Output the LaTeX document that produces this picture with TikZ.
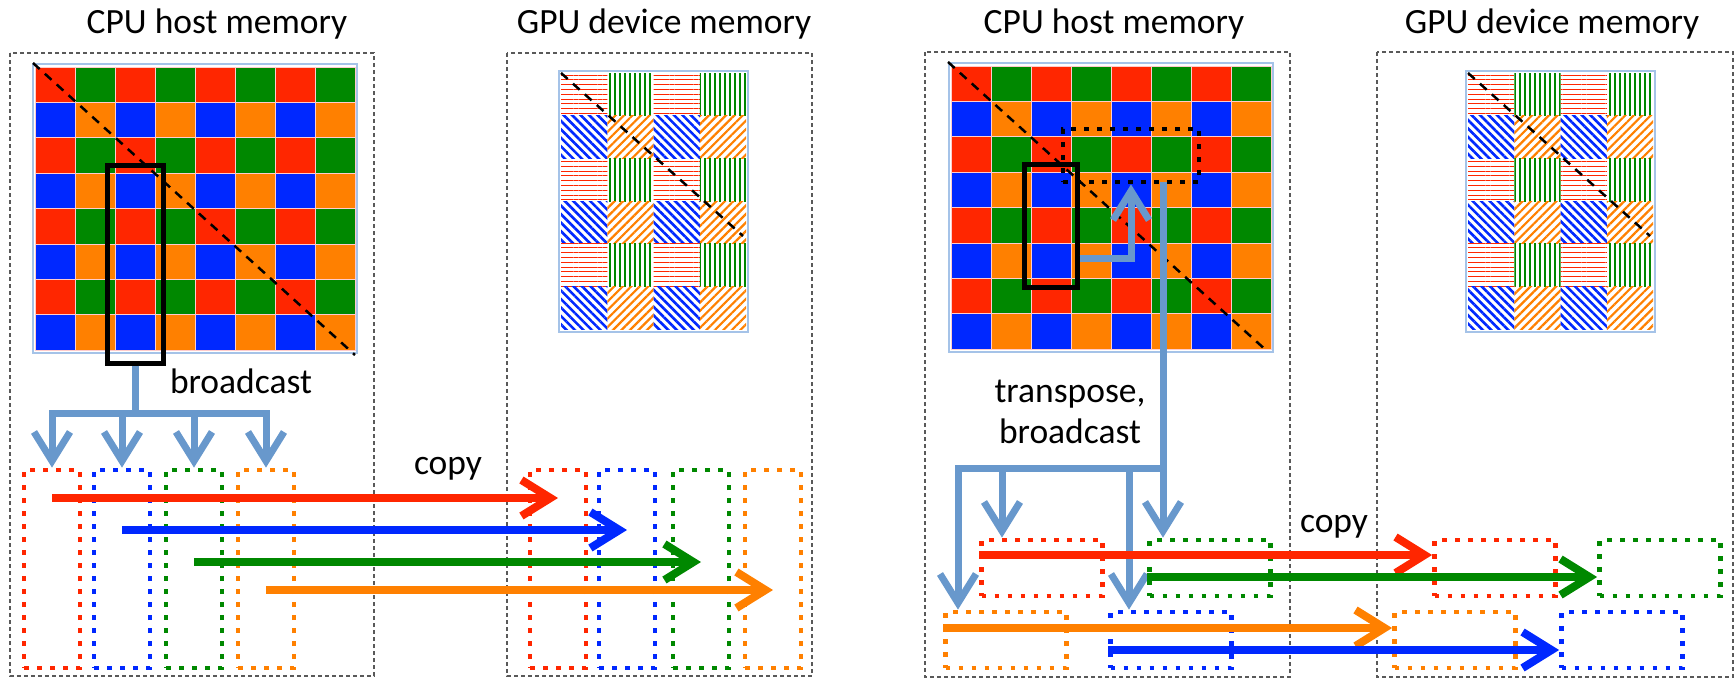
\documentclass[tikz,border=0pt]{standalone}
\usepackage{fontspec}
\setmainfont{Carlito}
\usetikzlibrary{arrows.meta,patterns.meta}

\definecolor{cellred}{RGB}{255,38,0}
\definecolor{cellgreen}{RGB}{0,136,0}
\definecolor{cellblue}{RGB}{0,40,255}
\definecolor{cellorange}{RGB}{255,128,0}
\definecolor{flow}{RGB}{104,152,204}
\definecolor{frameblue}{RGB}{165,195,232}

% 8x8 host matrix, top left corner at (#1,#2)
\newcommand{\hostgrid}[2]{%
  \foreach \r in {0,...,7}
    \foreach \c in {0,...,7}
    {
      \pgfmathtruncatemacro{\k}{mod(\r,2)*2+mod(\c,2)}
      \ifcase\k \def\cc{cellred}\or \def\cc{cellgreen}\or \def\cc{cellblue}\or \def\cc{cellorange}\fi
      \fill[\cc,draw=white!80!red,line width=0.8pt] (#1+40*\c,#2+35.4*\r) rectangle ++(40,35.4);
    }
}
% 6x4 device matrix, top left corner at (#1,#2)
\newcommand{\devgrid}[2]{%
  \foreach \r in {0,...,5}
    \foreach \c in {0,...,3}
    {
      \pgfmathtruncatemacro{\k}{mod(\r,2)*2+mod(\c,2)}
      \ifcase\k \def\pp{redh}\or \def\pp{greenv}\or \def\pp{bluel}\or \def\pp{orangel}\fi
      \path[\pp] (#1+46.3*\c,#2+42.7*\r) rectangle ++(46.3,42.7);
    }
}

\begin{document}
\begin{tikzpicture}[x=1pt,y=-1pt,
  >={Straight Barb[length=29pt,width=36pt]},
  lbl/.style={font=\fontsize{35.5}{41}\selectfont, inner sep=0pt, anchor=base},
  mem/.style={draw=black!65, line width=1.3pt, dash pattern=on 4pt off 3pt},
  rim/.style={draw=frameblue, line width=2.5pt},
  diag/.style={line width=2.5pt, dash pattern=on 9pt off 7pt},
  pick/.style={draw=black, line width=5pt, inner sep=0pt},
  dotbox/.style={draw=#1, line width=4.8pt, dash pattern=on 4.8pt off 8.2pt, inner sep=0pt},
  slab/.style={dotbox=#1, minimum width=56pt, minimum height=198pt},
  tile/.style={dotbox=#1, minimum width=121pt, minimum height=56pt},
  fan/.style={draw=flow, line width=7pt},
  ship/.style={draw=#1, line width=8pt, ->},
  redh/.style={pattern={Lines[angle=0,distance=4.8pt,line width=1pt]},pattern color=cellred},
  greenv/.style={pattern={Lines[angle=90,distance=5pt,line width=1.1pt]},pattern color=cellgreen},
  bluel/.style={pattern={Lines[angle=-45,distance=6pt,line width=2.6pt]},pattern color=cellblue},
  orangel/.style={pattern={Lines[angle=45,distance=6pt,line width=2.2pt]},pattern color=cellorange}]
\useasboundingbox (0,0) rectangle (1736,680);

% memory regions
\draw[mem] (10,53) rectangle (374,676);
\draw[mem] (507,53) rectangle (812,676);
\draw[mem] (925,52) rectangle (1290,677);
\draw[mem] (1377,52) rectangle (1733,677);

\node[lbl] (t1) at (217,33) {CPU host memory};
\node[lbl] (t2) at (664,33) {GPU device memory};
\node[lbl] (t3) at (1114,33) {CPU host memory};
\node[lbl] (t4) at (1552,33) {GPU device memory};

% matrices
\hostgrid{35}{67}
\draw[rim] (33,64) rectangle (357,353);
\draw[diag] (33,63) -- (355,355);
\devgrid{561}{73}
\draw[rim] (559,71) rectangle (748,332);
\draw[diag] (561,73) -- (743,236);
\hostgrid{951}{66}
\draw[rim] (949,63) rectangle (1273,352);
\draw[diag] (948,62) -- (1268,352);
\devgrid{1468}{73}
\draw[rim] (1466,71) rectangle (1655,332);
\draw[diag] (1468,73) -- (1650,236);

% left: column panel, broadcast, copy
\node[pick, minimum width=56pt, minimum height=198pt] (sel) at (135,264) {};
\node[lbl] (bc) at (241,393) {broadcast};

\node[slab=cellred] (hR) at (52,569) {};
\node[slab=cellblue] (hB) at (122,569) {};
\node[slab=cellgreen] (hG) at (194,569) {};
\node[slab=cellorange] (hO) at (266,569) {};
\node[slab=cellred] (dR) at (558,569) {};
\node[slab=cellblue] (dB) at (627,569) {};
\node[slab=cellgreen] (dG) at (701,569) {};
\node[slab=cellorange] (dO) at (773,569) {};

\draw[fan] (sel.south) -- (sel.south |- 0,413);
\draw[fan,<->] (hR.north) -- (hR.north |- 0,413) -- (hO.north |- 0,413) -- (hO.north);
\draw[fan,->] (hB.north |- 0,413) -- (hB.north);
\draw[fan,->] (hG.north |- 0,413) -- (hG.north);

\node[lbl] (c1) at (448,474) {copy};
\draw[ship=cellred] (hR.center |- 0,498) -- (dR.center |- 0,498);
\draw[ship=cellblue] (hB.center |- 0,530) -- (dB.center |- 0,530);
\draw[ship=cellgreen] (hG.center |- 0,562) -- (dG.center |- 0,562);
\draw[ship=cellorange] (hO.center |- 0,590) -- (dO.center |- 0,590);

% right: column panel, transpose, broadcast, copy
\node[pick, minimum width=53pt, minimum height=123pt] (sel2) at (1050.5,225.5) {};
\node[dotbox=black, minimum width=136pt, minimum height=53pt] (tsel) at (1131,155.5) {};
\draw[fan,->] (sel2.east |- 0,258) -| (tsel.south);

\node[lbl, align=center] (tb) at (1070,443) {transpose,\\broadcast};

\node[tile=cellred] (tR) at (1042,568) {};
\node[tile=cellgreen] (tG) at (1210,568) {};
\node[tile=cellorange] (tO) at (1006,640) {};
\node[tile=cellblue] (tB) at (1171,640) {};
\node[tile=cellred] (eR) at (1495,568) {};
\node[tile=cellgreen] (eG) at (1660,568) {};
\node[tile=cellorange] (eO) at (1455,640) {};
\node[tile=cellblue] (eB) at (1622,640) {};

\coordinate (tap) at (1163,182);
\coordinate (bl) at (958,468);
\coordinate (b1) at (1002,468);
\coordinate (b2) at (1129,468);
\draw[fan,->] (tap) -- (tap |- tG.north);
\draw[fan,<-] (bl |- tO.north) -- (bl) -- (tap |- bl);
\draw[fan,->] (b1) -- (b1 |- tR.north);
\draw[fan,->] (b2) -- (b2 |- tB.north);

\node[lbl] (c2) at (1334,532) {copy};
\draw[ship=cellred] (tR.west |- 0,555) -- (eR.west |- 0,555);
\draw[ship=cellgreen] (tG.west |- 0,577) -- (eG.west |- 0,577);
\draw[ship=cellorange] (tO.west |- 0,628) -- (eO.west |- 0,628);
\draw[ship=cellblue] (tB.west |- 0,650) -- (eB.west |- 0,650);
\end{tikzpicture}
\end{document}
